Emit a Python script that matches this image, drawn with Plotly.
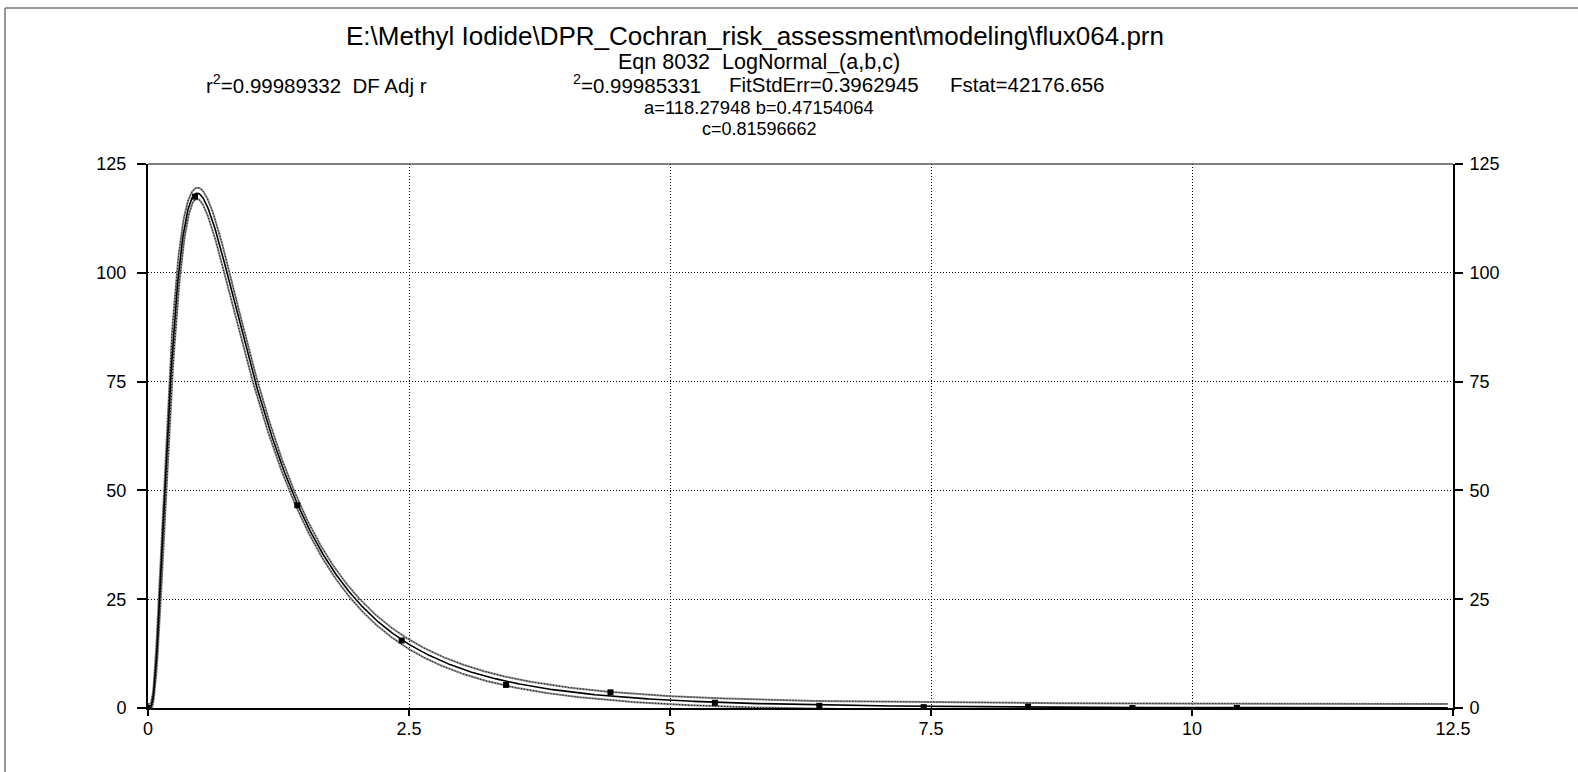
import numpy as np
import plotly.graph_objects as go

# ---- data ----
x_data = [0.0, 0.45, 1.43, 2.43, 3.43, 4.43, 5.43, 6.43, 7.43, 8.43, 9.43, 10.43]
y_data = [0.0, 117.5, 46.6, 15.5, 5.3, 3.6, 1.2, 0.5, 0.2, 0.3, 0.0, 0.0]

# fitted parameters shown in the chart header
a_fit = 118.27948
b_fit = 0.47154064
c_fit = 0.81596662
fit_std_err = 0.3962945
t_crit = 2.262  # 95%, DF = 9

x_ticks = [0, 2.5, 5, 7.5, 10, 12.5]
x_ticktext = ["0", "2.5", "5", "7.5", "10", "12.5"]
y_ticks = [0, 25, 50, 75, 100, 125]
y_ticktext = ["0", "25", "50", "75", "100", "125"]

title1 = "E:\\Methyl Iodide\\DPR_Cochran_risk_assessment\\modeling\\flux064.prn"
title2 = "Eqn 8032  LogNormal_(a,b,c)"
title3a = "r<sup>2</sup>=0.99989332  DF Adj r"
title3b = "<sup>2</sup>=0.99985331"
title3c = "FitStdErr=0.3962945"
title3d = "Fstat=42176.656"
title4 = "a=118.27948 b=0.47154064"
title5 = "c=0.81596662"


# ---- fitted curve and prediction band ----
def model(x):
    x = np.asarray(x, dtype=float)
    out = np.zeros_like(x)
    m = x > 0
    out[m] = a_fit * np.exp(-0.5 * (np.log(x[m] / b_fit) / c_fit) ** 2)
    return out


def jac(x):
    x = np.asarray(x, dtype=float)
    J = np.zeros((len(x), 3))
    m = x > 0
    L = np.log(x[m] / b_fit)
    f = model(x[m])
    J[m, 0] = f / a_fit
    J[m, 1] = f * L / (c_fit ** 2 * b_fit)
    J[m, 2] = f * L ** 2 / c_fit ** 3
    return J


Jd = jac(x_data)
cov = fit_std_err ** 2 * np.linalg.inv(Jd.T @ Jd)

xg = np.concatenate([[0.0], np.linspace(0.005, 12.45, 1500)])
yg = model(xg)
Jg = jac(xg)
var_fit = np.einsum("ij,jk,ik->i", Jg, cov, Jg)
half = t_crit * np.sqrt(fit_std_err ** 2 + var_fit)
upper = yg + half
lower = yg - half

fig = go.Figure()
for band in (upper, lower):
    fig.add_trace(go.Scatter(x=xg, y=band, mode="lines",
                             line=dict(color="#8c8c8c", width=2), hoverinfo="skip"))
    fig.add_trace(go.Scatter(x=xg, y=band, mode="lines",
                             line=dict(color="black", width=1, dash="1px,2px"), hoverinfo="skip"))
fig.add_trace(go.Scatter(x=xg, y=yg, mode="lines", line=dict(color="black", width=1.6)))
fig.add_trace(go.Scatter(x=x_data, y=y_data, mode="markers",
                         marker=dict(symbol="square", size=6, color="black")))
fig.add_trace(go.Scatter(x=[0], y=[0], yaxis="y2", mode="markers",
                         marker=dict(opacity=0), hoverinfo="skip"))

L_PX, R_PX, T_PX, B_PX = 148, 1453, 164, 708
W, H = 1578, 772
PW, PH = R_PX - L_PX, B_PX - T_PX


def px(xp):
    return (xp - L_PX) / PW


def py(yp):
    return (B_PX - yp) / PH


FONT = "Liberation Sans, Arial, sans-serif"
tick_font = dict(family=FONT, size=18, color="black")

fig.update_layout(
    width=W, height=H,
    margin=dict(l=L_PX, r=W - R_PX, t=T_PX, b=H - B_PX, pad=0),
    paper_bgcolor="white", plot_bgcolor="white",
    showlegend=False,
    font=dict(family=FONT, color="black"),
    xaxis=dict(range=[0, 12.5], tickvals=x_ticks, ticktext=x_ticktext,
               showgrid=True, gridcolor="black", griddash="1px,2px", gridwidth=1,
               showline=True, linecolor="black", linewidth=2,
               ticks="outside", ticklen=6, tickwidth=1.5, tickcolor="black",
               zeroline=False, tickfont=tick_font, ticklabelstandoff=-3),
    yaxis=dict(range=[0, 125], tickvals=y_ticks, ticktext=y_ticktext,
               showgrid=True, gridcolor="black", griddash="1px,2px", gridwidth=1,
               showline=True, linecolor="black", linewidth=2,
               ticks="outside", ticklen=9, tickwidth=1.5, tickcolor="black",
               zeroline=False, tickfont=tick_font, ticklabelstandoff=7),
    yaxis2=dict(range=[0, 125], tickvals=y_ticks, ticktext=y_ticktext,
                overlaying="y", side="right", showgrid=False,
                showline=True, linecolor="black", linewidth=2,
                ticks="outside", ticklen=8, tickwidth=1.5, tickcolor="black",
                zeroline=False, tickfont=tick_font, ticklabelstandoff=3),
)

# top border of plot and outer frame
fig.add_shape(type="line", xref="paper", yref="paper", x0=0, x1=1, y0=1, y1=1,
              line=dict(color="#555555", width=1.5))
fig.add_shape(type="line", xref="paper", yref="paper", x0=px(5), x1=px(W + 5),
              y0=py(8), y1=py(8), line=dict(color="#777777", width=1.5))
fig.add_shape(type="line", xref="paper", yref="paper", x0=px(5), x1=px(5),
              y0=py(8), y1=py(H + 5), line=dict(color="#777777", width=1.5))


def ann(text, xp, yp, size, xanchor="center"):
    fig.add_annotation(text=text, xref="paper", yref="paper", x=px(xp), y=py(yp),
                       xanchor=xanchor, yanchor="middle", showarrow=False,
                       font=dict(family=FONT, size=size, color="black"))


ann(title1, 755, 36, 26)
ann(title2, 759, 62, 21.5)
ann(title3a, 204, 84, 20.5, "left")
ann(title3b, 571, 84, 20.5, "left")
ann(title3c, 727, 84, 20.5, "left")
ann(title3d, 1106, 84, 20.5, "right")
ann(title4, 759, 107, 18.4)
ann(title5, 759, 129, 18)

fig.write_html("out.html", config={"displayModeBar": False},
               post_script="document.body.style.margin='0px';")
